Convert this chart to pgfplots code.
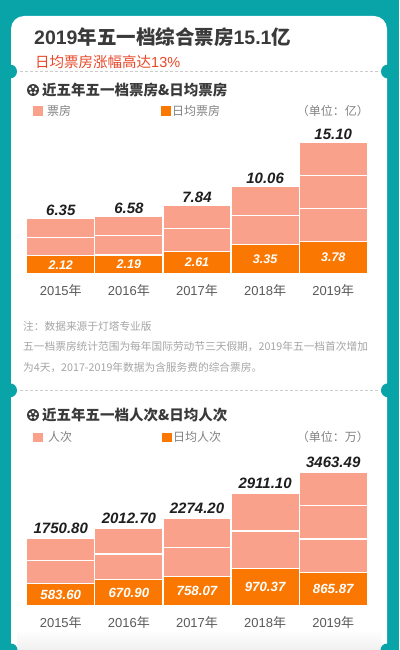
\documentclass[border=0pt]{standalone}
\usepackage{pgfplots}
\pgfplotsset{compat=1.18}
\usepackage{fontspec}
\setmainfont{Noto Sans CJK SC}
\newfontfamily\num{Liberation Sans}
\definecolor{bgteal}{RGB}{8,164,167}
\definecolor{pinkbar}{RGB}{250,161,139}
\definecolor{orangebar}{RGB}{250,120,2}
\definecolor{titlegray}{RGB}{58,58,58}
\definecolor{subred}{RGB}{232,72,40}
\definecolor{leggray}{RGB}{130,130,130}
\definecolor{notegray}{RGB}{165,165,165}
\definecolor{yeargray}{RGB}{90,90,90}
\definecolor{valblack}{RGB}{30,30,30}
\pgfplotsset{
  barbase/.style={
    scale only axis, width=340.6pt, xmin=-0.5, xmax=4.5, ymin=0,
    axis line style={draw=none}, major tick length=0pt,
    ytick=\empty, xtick={0,1,2,3,4},
    xticklabels={{\num 2015}年,{\num 2016}年,{\num 2017}年,{\num 2018}年,{\num 2019}年},
    xticklabel style={anchor=center, yshift=-17pt, font=\fontsize{13}{13}\selectfont, text=yeargray},
    clip=false,
  },
  barstack/.style={barbase, ybar stacked, bar width=68.1pt},
  segpink/.style={fill=pinkbar, draw=white, line width=1.2pt},
  segorange/.style={fill=orangebar, draw=white, line width=1.2pt},
  lbltotal/.style={draw=none, mark=none, nodes near coords, point meta=explicit symbolic,
    nodes near coords style={anchor=center, yshift=#1, font=\num\bfseries\itshape\fontsize{15}{15}\selectfont, text=valblack}},
  lbldaily/.style={draw=none, mark=none, nodes near coords, point meta=explicit symbolic,
    nodes near coords style={anchor=center, font=\num\bfseries\itshape\fontsize{#1}{#1}\selectfont, text=white}},
}
\begin{document}
\begin{tikzpicture}
\useasboundingbox (0,0) rectangle (399pt,-650pt);
\fill[bgteal] (0,0) rectangle (399pt,-650pt);
% card
\fill[white, rounded corners=13pt] (11pt,-16pt) rectangle (387pt,-660pt);
\shade[top color=white, bottom color=black!6] (17pt,-630pt) rectangle (381pt,-650pt);
\fill[bgteal] (11pt,-650pt) circle (6.5pt);
\fill[bgteal] (387pt,-650pt) circle (6.5pt);
% notches
\fill[bgteal] (10pt,-71.5pt) circle (7pt);
\fill[bgteal] (388pt,-71.5pt) circle (7pt);
\fill[bgteal] (10pt,-390.3pt) circle (7pt);
\fill[bgteal] (388pt,-390.3pt) circle (7pt);
\draw[black!20, dash pattern=on 3pt off 2pt, line width=0.6pt] (20pt,-71.5pt) -- (378pt,-71.5pt);
\draw[black!20, dash pattern=on 3pt off 2pt, line width=0.6pt] (20pt,-390.3pt) -- (378pt,-390.3pt);
% title
\node[anchor=west, inner sep=0, text=titlegray, font=\bfseries\fontsize{19.5}{19.5}\selectfont] at (34pt,-37pt)
  {{\num\bfseries 2019}年五一档综合票房{\num\bfseries 15.1}亿};
\node[anchor=west, inner sep=0, text=subred, font=\fontsize{14.5}{14.5}\selectfont] at (35pt,-61.5pt)
  {日均票房涨幅高达{\num 13\%}};
% section 1 header
\begin{scope}[shift={(33pt,-90pt)}]
  \fill[titlegray] (0,0) circle (6pt);
  \foreach \a in {90,162,234,306,18} \fill[white] (\a:3.1pt) circle (1.5pt);
\end{scope}
\node[anchor=west, inner sep=0, text=titlegray, font=\bfseries\fontsize{14.5}{14.5}\selectfont] at (42pt,-90pt)
  {近五年五一档票房\&日均票房};
% legend 1
\fill[pinkbar] (33pt,-106.5pt) rectangle (42.5pt,-116pt);
\node[anchor=west, inner sep=0, text=leggray, font=\fontsize{12}{12}\selectfont] at (47pt,-111pt) {票房};
\fill[orangebar] (161pt,-106.5pt) rectangle (170.5pt,-116pt);
\node[anchor=west, inner sep=0, text=leggray, font=\fontsize{12}{12}\selectfont] at (172pt,-111pt) {日均票房};
\node[anchor=east, inner sep=0, text=leggray, font=\fontsize{12}{12}\selectfont] at (369pt,-111pt) {（单位：亿）};
% chart 1
\begin{axis}[barstack, at={(26.7pt,-274pt)}, anchor=south west, ymax=16, height=139.2pt]
\addplot[segorange] coordinates {(0,2.12) (1,2.19) (2,2.61) (3,3.35) (4,3.78)};
\addplot[segpink] coordinates {(0,2.115) (1,2.195) (2,2.615) (3,3.355) (4,3.773)};
\addplot[segpink] coordinates {(0,2.115) (1,2.195) (2,2.615) (3,3.355) (4,3.773)};
\addplot[segpink] coordinates {(0,0) (1,0) (2,0) (3,0) (4,3.774)};
\end{axis}
\begin{axis}[barbase, xtick=\empty, at={(26.7pt,-274pt)}, anchor=south west, ymax=16, height=139.2pt]
\addplot[lbltotal=8pt] coordinates {(0,6.35)[6.35] (1,6.58)[6.58] (2,7.84)[7.84] (3,10.06)[10.06] (4,15.10)[15.10]};
\addplot[lbldaily=12.5] coordinates {(0,1.06)[2.12] (1,1.095)[2.19] (2,1.305)[2.61] (3,1.675)[3.35] (4,1.89)[3.78]};
\end{axis}
% notes
\node[anchor=west, inner sep=0, text=notegray, font=\fontsize{10.7}{10.7}\selectfont] at (23pt,-326pt) {注：数据来源于灯塔专业版};
\node[anchor=west, inner sep=0, text=notegray, font=\fontsize{10.7}{10.7}\selectfont] at (23pt,-346.7pt) {五一档票房统计范围为每年国际劳动节三天假期，2019年五一档首次增加};
\node[anchor=west, inner sep=0, text=notegray, font=\fontsize{10.7}{10.7}\selectfont] at (23pt,-368pt) {为4天，2017-2019年数据为含服务费的综合票房。};
% section 2 header
\begin{scope}[shift={(33pt,-415pt)}]
  \fill[titlegray] (0,0) circle (6pt);
  \foreach \a in {90,162,234,306,18} \fill[white] (\a:3.1pt) circle (1.5pt);
\end{scope}
\node[anchor=west, inner sep=0, text=titlegray, font=\bfseries\fontsize{14.5}{14.5}\selectfont] at (42pt,-415pt)
  {近五年五一档人次\&日均人次};
% legend 2
\fill[pinkbar] (33pt,-432.5pt) rectangle (42.5pt,-442pt);
\node[anchor=west, inner sep=0, text=leggray, font=\fontsize{12}{12}\selectfont] at (48pt,-437pt) {人次};
\fill[orangebar] (162pt,-432.5pt) rectangle (171.5pt,-442pt);
\node[anchor=west, inner sep=0, text=leggray, font=\fontsize{12}{12}\selectfont] at (173pt,-437pt) {日均人次};
\node[anchor=east, inner sep=0, text=leggray, font=\fontsize{12}{12}\selectfont] at (369pt,-437pt) {（单位：万）};
% chart 2
\begin{axis}[barstack, at={(26.7pt,-605.7pt)}, anchor=south west, ymax=3600, height=138.6pt]
\addplot[segorange] coordinates {(0,583.60) (1,670.90) (2,758.07) (3,970.37) (4,865.87)};
\addplot[segpink] coordinates {(0,583.60) (1,670.90) (2,758.065) (3,970.365) (4,865.873)};
\addplot[segpink] coordinates {(0,583.60) (1,670.90) (2,758.065) (3,970.365) (4,865.873)};
\addplot[segpink] coordinates {(0,0) (1,0) (2,0) (3,0) (4,865.873)};
\end{axis}
\begin{axis}[barbase, xtick=\empty, at={(26.7pt,-605.7pt)}, anchor=south west, ymax=3600, height=138.6pt]
\addplot[lbltotal=10pt] coordinates {(0,1750.80)[1750.80] (1,2012.70)[2012.70] (2,2274.20)[2274.20] (3,2911.10)[2911.10] (4,3463.49)[3463.49]};
\addplot[lbldaily=13.3] coordinates {(0,291.8)[583.60] (1,335.45)[670.90] (2,379.035)[758.07] (3,485.185)[970.37] (4,432.935)[865.87]};
\end{axis}
\end{tikzpicture}
\end{document}
